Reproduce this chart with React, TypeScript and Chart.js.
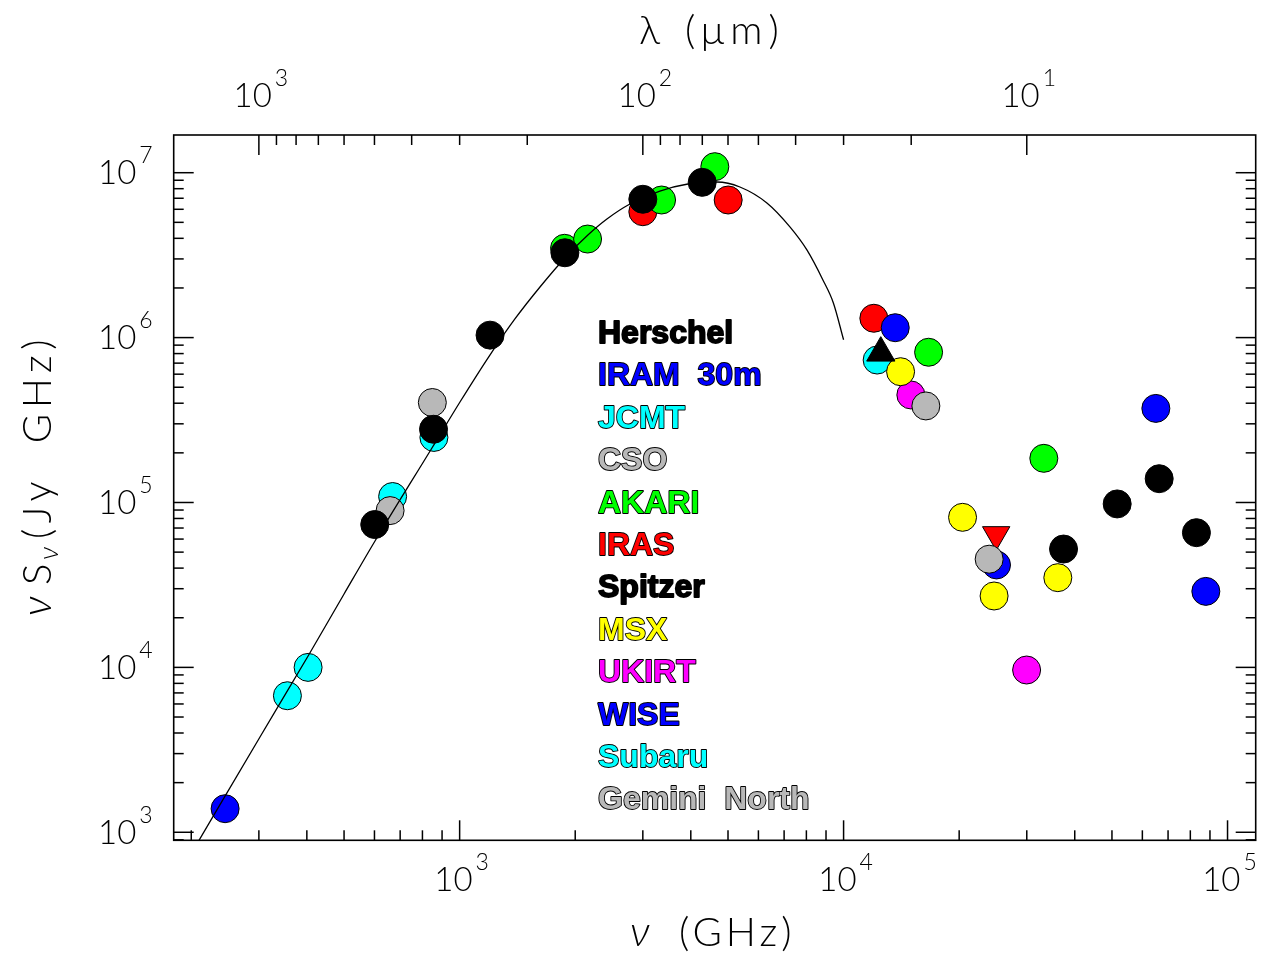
import React, { useEffect, useRef } from 'react';
import { Chart, registerables } from 'chart.js';

Chart.register(...registerables);

// ---------- data (frequency in GHz, nu*S_nu in Jy GHz) ----------
const herschelFreq = [601, 855, 1200, 1880, 3000, 4283];
const herschelFlux = [7.35e4, 2.78e5, 1.035e6, 3.27e6, 6.9e6, 8.74e6];

const iramFreq = [245];
const iramFlux = [1390];

const jcmtFreq = [356, 403, 669, 857];
const jcmtFlux = [6730, 1.0e4, 1.087e5, 2.48e5];

const csoFreq = [659, 849];
const csoFlux = [8.93e4, 4.04e5];

const akariFreq = [1876, 2154, 3357, 4620, 16650, 33230];
const akariFlux = [3.48e6, 3.96e6, 6.83e6, 1.088e7, 8.15e5, 1.853e5];

const irasFreq = [3000, 5005, 11990, 24970];
const irasFlux = [5.8e6, 6.83e6, 1.31e6, 6.39e4];
const irasStyle = ['circle', 'circle', 'circle', 'triangle'];
const irasRotation = [0, 0, 0, 180];

const spitzerFreq = [12500, 37400, 51590, 66370, 82980];
const spitzerFlux = [8.07e5, 5.22e4, 9.8e4, 1.394e5, 6.56e4];
const spitzerStyle = ['triangle', 'circle', 'circle', 'circle', 'circle'];

const msxFreq = [14075, 20410, 24660, 36140];
const msxFlux = [6.21e5, 8.13e4, 2.71e4, 3.5e4];

const ukirtFreq = [14970, 29970];
const ukirtFlux = [4.49e5, 9.64e3];

const wiseFreq = [13630, 25020, 65060, 87800];
const wiseFlux = [1.148e6, 4.18e4, 3.72e5, 2.89e4];

const subaruFreq = [12230];
const subaruFlux = [7.31e5];

const geminiFreq = [16380, 23940];
const geminiFlux = [3.85e5, 4.53e4];

// fitted SED curve
const fitFreq = [205, 302, 403, 500, 602, 847, 1002, 1199, 1393, 1619, 1880, 2158, 2419, 2777, 3323, 3932, 4677, 5370, 6314, 7248, 8025, 8834, 9406, 10000];
const fitFlux = [820, 3785, 11720, 27870, 58420, 2.141e5, 4.07e5, 7.84e5, 1.297e6, 2.027e6, 3.04e6, 4.19e6, 5.24e6, 6.46e6, 7.74e6, 8.54e6, 8.78e6, 8.19e6, 6.55e6, 4.69e6, 3.4e6, 2.236e6, 1.622e6, 9.7e5];

// axes
const nuMin = 180;
const nuMax = 1.184e5;
const fluxMin = 894;
const fluxMax = 1.693e7;
const nuTickLabels = [1e3, 1e4, 1e5];
const fluxTickLabels = [1e3, 1e4, 1e5, 1e6, 1e7];
const lambdaTickLabels = [1e3, 1e2, 1e1];
const nuDecades = [2, 3, 4, 5];
const fluxDecades = [2, 3, 4, 5, 6, 7];
const lambdaDecades = [1, 2, 3];
const lambdaTickFloor = 10;
const C_UM_GHZ = 3e5; // lambda[um] = 3e5 / nu[GHz]

// legend
const legendLabels = ['Herschel', 'IRAM  30m', 'JCMT', 'CSO', 'AKARI', 'IRAS', 'Spitzer', 'MSX', 'UKIRT', 'WISE', 'Subaru', 'Gemini  North'];
const legendColors = ['#000000', '#0000ff', '#00ffff', '#b8b8b8', '#00ff00', '#ff0000', '#000000', '#ffff00', '#ff00ff', '#0000ff', '#00ffff', '#b8b8b8'];

// ---------- helpers ----------
const pts = (f: number[], s: number[]) => f.map((x, i) => ({ x, y: s[i] }));

function makeSet(label: string, f: number[], s: number[], color: string, order: number, extra: any = {}) {
  return {
    label,
    data: pts(f, s),
    backgroundColor: color,
    borderColor: '#000000',
    borderWidth: 1,
    pointRadius: 14,
    pointHoverRadius: 14,
    showLine: false,
    order,
    ...extra,
  };
}

const MAIN_FONT = '300 33px Lato, "DejaVu Sans", sans-serif';
const SUP_FONT = '300 23px Lato, "DejaVu Sans", sans-serif';

function drawPow(ctx: CanvasRenderingContext2D, exp: number, x: number, baseline: number, align: 'center' | 'right') {
  ctx.font = MAIN_FONT;
  const w1 = ctx.measureText('10').width;
  ctx.font = SUP_FONT;
  const es = String(exp);
  const w2 = ctx.measureText(es).width;
  const gap = 3;
  const total = w1 + gap + w2;
  const x0 = align === 'center' ? x - total / 2 : x - total;
  ctx.textAlign = 'left';
  ctx.textBaseline = 'alphabetic';
  ctx.font = MAIN_FONT;
  ctx.fillText('10', x0, baseline);
  ctx.font = SUP_FONT;
  ctx.fillText(es, x0 + w1 + gap, baseline - 21);
}

function setSpacing(ctx: any, v: string) {
  try { ctx.letterSpacing = v; } catch (e) { /* ignore */ }
}

const framePlugin = {
  id: 'sedFrame',
  afterDatasetsDraw(chart: any) {
    const { ctx, chartArea: a, scales } = chart;
    const xs = scales.x;
    const ys = scales.y;
    const xt = scales.x2;
    ctx.save();
    ctx.strokeStyle = '#000';
    ctx.fillStyle = '#000';
    ctx.lineWidth = 1.6;
    ctx.lineCap = 'butt';
    ctx.strokeRect(a.left, a.top, a.right - a.left, a.bottom - a.top);

    const line = (x1: number, y1: number, x2: number, y2: number) => {
      ctx.beginPath();
      ctx.moveTo(x1, y1);
      ctx.lineTo(x2, y2);
      ctx.stroke();
    };
    ctx.lineWidth = 1.5;
    // bottom (frequency)
    for (const d of nuDecades) {
      for (let m = 1; m <= 9; m++) {
        const v = m * Math.pow(10, d);
        if (v < nuMin || v > nuMax) continue;
        const px = xs.getPixelForValue(v);
        line(px, a.bottom, px, a.bottom - (m === 1 ? 20 : 10));
      }
    }
    // top (wavelength)
    for (const d of lambdaDecades) {
      for (let m = 1; m <= 9; m++) {
        const v = m * Math.pow(10, d);
        if (v < lambdaTickFloor || v < xt.min || v > xt.max) continue;
        const px = xt.getPixelForValue(v);
        line(px, a.top, px, a.top + (m === 1 ? 20 : 10));
      }
    }
    // left / right (flux)
    for (const d of fluxDecades) {
      for (let m = 1; m <= 9; m++) {
        const v = m * Math.pow(10, d);
        if (v < fluxMin || v > fluxMax) continue;
        const py = ys.getPixelForValue(v);
        const L = m === 1 ? 20 : 10;
        line(a.left, py, a.left + L, py);
        line(a.right, py, a.right - L, py);
      }
    }

    // tick labels
    for (const v of nuTickLabels) {
      drawPow(ctx, Math.round(Math.log10(v)), xs.getPixelForValue(v) + 2, 891, 'center');
    }
    for (const v of lambdaTickLabels) {
      drawPow(ctx, Math.round(Math.log10(v)), xt.getPixelForValue(v) + 2, 106.5, 'center');
    }
    for (const v of fluxTickLabels) {
      drawPow(ctx, Math.round(Math.log10(v)), a.left - 21, ys.getPixelForValue(v) + 11.5, 'right');
    }

    // axis titles
    const TITLE = '300 40px Lato, "DejaVu Sans", sans-serif';
    const TITLE_I = 'italic 300 42px Lato, "DejaVu Sans", sans-serif';
    ctx.textAlign = 'left';
    ctx.textBaseline = 'alphabetic';
    // top: lambda (um)
    ctx.font = TITLE;
    ctx.fillText('\u03bb', 639, 44);
    setSpacing(ctx, '6px');
    ctx.fillText('(\u03bcm)', 685, 44);
    setSpacing(ctx, '0px');
    // bottom: nu (GHz)
    ctx.font = TITLE_I;
    ctx.fillText('\u03bd', 630, 946);
    ctx.font = TITLE;
    setSpacing(ctx, '4px');
    ctx.fillText('(GHz)', 679, 946);
    setSpacing(ctx, '0px');
    // left: nu S_nu (Jy GHz)
    ctx.save();
    ctx.translate(51, 616);
    ctx.rotate(-Math.PI / 2);
    ctx.font = TITLE_I;
    ctx.fillText('\u03bd', 0, 0);
    ctx.font = TITLE;
    ctx.fillText('S', 31, 0);
    ctx.font = 'italic 300 28px Lato, "DejaVu Sans", sans-serif';
    ctx.fillText('\u03bd', 56, 7);
    ctx.font = TITLE;
    setSpacing(ctx, '5.5px');
    ctx.fillText('(Jy  GHz)', 77, 0);
    setSpacing(ctx, '0px');
    ctx.restore();

    // legend text
    ctx.font = 'bold 32px "Liberation Sans", Arial, sans-serif';
    ctx.lineJoin = 'round';
    ctx.lineWidth = 1.8;
    legendLabels.forEach((t, i) => {
      const y = 343 + i * 42.4;
      ctx.strokeStyle = '#000';
      ctx.strokeText(t, 598, y);
      ctx.fillStyle = legendColors[i];
      ctx.fillText(t, 598, y);
    });
    ctx.restore();
  },
};

export default function App() {
  const ref = useRef<HTMLCanvasElement>(null);
  useEffect(() => {
    if (!ref.current) return;
    const datasets: any[] = [
      {
        label: 'fit',
        data: pts(fitFreq, fitFlux),
        showLine: true,
        borderColor: '#000000',
        borderWidth: 1.3,
        pointRadius: 0,
        pointHoverRadius: 0,
        cubicInterpolationMode: 'monotone',
        fill: false,
        order: 0,
      },
      makeSet('Herschel', herschelFreq, herschelFlux, '#000000', 1),
      makeSet('Spitzer', spitzerFreq, spitzerFlux, '#000000', 2, {
        pointStyle: spitzerStyle,
        pointRadius: spitzerStyle.map((s) => (s === 'triangle' ? 16.3 : 14)),
      }),
      makeSet('Gemini North', geminiFreq, geminiFlux, '#b8b8b8', 3),
      makeSet('WISE', wiseFreq, wiseFlux, '#0000ff', 4),
      makeSet('MSX', msxFreq, msxFlux, '#ffff00', 5),
      makeSet('UKIRT', ukirtFreq, ukirtFlux, '#ff00ff', 6),
      makeSet('CSO', csoFreq, csoFlux, '#b8b8b8', 7),
      makeSet('IRAM 30m', iramFreq, iramFlux, '#0000ff', 8),
      makeSet('AKARI', akariFreq, akariFlux, '#00ff00', 9),
      makeSet('Subaru', subaruFreq, subaruFlux, '#00ffff', 10),
      makeSet('JCMT', jcmtFreq, jcmtFlux, '#00ffff', 11),
      makeSet('IRAS', irasFreq, irasFlux, '#ff0000', 12, {
        pointStyle: irasStyle,
        rotation: irasRotation,
        pointRadius: irasStyle.map((s) => (s === 'triangle' ? 15.8 : 14)),
      }),
    ];

    const hidden = {
      grid: { display: false },
      border: { display: false },
      ticks: { display: false },
      title: { display: false },
    };

    const chart = new Chart(ref.current, {
      type: 'scatter',
      data: { datasets },
      options: {
        animation: false,
        responsive: false,
        maintainAspectRatio: false,
        layout: { padding: 0, autoPadding: false },
        plugins: {
          legend: { display: false },
          tooltip: { enabled: false },
        },
        events: [],
        scales: {
          x: {
            type: 'logarithmic',
            position: 'bottom',
            min: nuMin,
            max: nuMax,
            bounds: 'data',
            ...hidden,
            afterFit: (s: any) => { s.height = 957 - 840.3; },
          },
          x2: {
            type: 'logarithmic',
            position: 'top',
            min: C_UM_GHZ / nuMax,
            max: C_UM_GHZ / nuMin,
            reverse: true,
            bounds: 'data',
            ...hidden,
            afterFit: (s: any) => { s.height = 135; },
          },
          y: {
            type: 'logarithmic',
            position: 'left',
            min: fluxMin,
            max: fluxMax,
            bounds: 'data',
            ...hidden,
            afterFit: (s: any) => { s.width = 173.7; },
          },
          y2: {
            type: 'logarithmic',
            position: 'right',
            min: fluxMin,
            max: fluxMax,
            bounds: 'data',
            ...hidden,
            afterFit: (s: any) => { s.width = 1270 - 1255.7; },
          },
        },
      } as any,
      plugins: [framePlugin],
    });
    return () => chart.destroy();
  }, []);

  return (
    <div style={{ position: 'fixed', left: 0, top: 0, width: 1270, height: 957, background: '#ffffff' }}>
      <canvas ref={ref} width={1270} height={957} style={{ display: 'block', width: 1270, height: 957 }} />
    </div>
  );
}
